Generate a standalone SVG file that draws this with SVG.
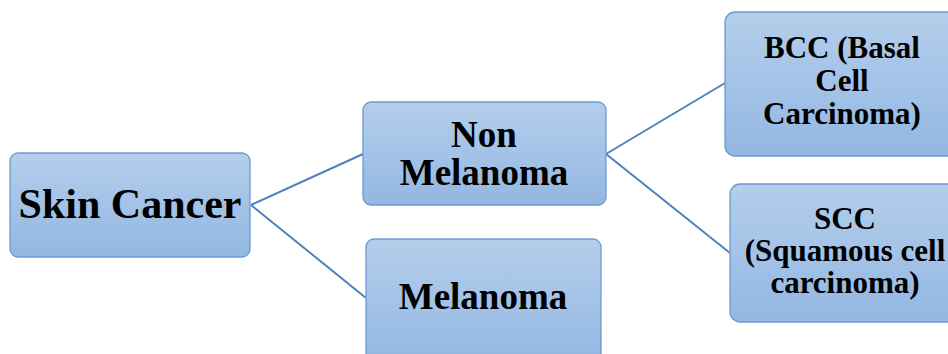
<svg xmlns="http://www.w3.org/2000/svg" width="948" height="354" viewBox="0 0 948 354">
<defs>
<linearGradient id="g" x1="0" y1="0" x2="0" y2="1">
<stop offset="0" stop-color="#B4CEEB"/>
<stop offset="1" stop-color="#93B7E2"/>
</linearGradient>
<style>
.box{fill:url(#g);stroke:#6A9AD3;stroke-width:1.3}
.t{font-weight:bold;fill:#000;text-anchor:middle}
.c{stroke:#4F81BD;stroke-width:2;fill:none}
</style>
</defs>
<rect width="948" height="354" fill="#fff"/>
<g id="connectors">
<line class="c" x1="251" y1="205" x2="363" y2="154"/>
<line class="c" x1="251" y1="205" x2="366" y2="298"/>
<line class="c" x1="606" y1="154" x2="725" y2="83"/>
<line class="c" x1="606" y1="154" x2="730" y2="253"/>
</g>
<g font-family="Liberation Serif, DejaVu Serif, serif">
<g id="skin-cancer">
<rect class="box" x="10" y="153" width="240" height="104" rx="8"/>
<text class="t" x="130" y="218" font-size="42">Skin Cancer</text>
</g>
<g id="non-melanoma">
<rect class="box" x="363" y="102" width="243" height="103" rx="8"/>
<text class="t" x="484" y="147" font-size="37">Non</text>
<text class="t" x="484" y="185" font-size="37">Melanoma</text>
</g>
<g id="melanoma">
<rect class="box" x="366" y="239" width="235" height="125" rx="8"/>
<text class="t" x="483" y="309" font-size="37">Melanoma</text>
</g>
<g id="bcc">
<rect class="box" x="725" y="12" width="235" height="144" rx="10"/>
<text class="t" x="842" y="58" font-size="31">BCC (Basal</text>
<text class="t" x="842" y="91" font-size="31">Cell</text>
<text class="t" x="842" y="124" font-size="31">Carcinoma)</text>
</g>
<g id="scc">
<rect class="box" x="730" y="184" width="235" height="138" rx="10"/>
<text class="t" x="845" y="229" font-size="31">SCC</text>
<text class="t" x="845" y="261" font-size="31">(Squamous cell</text>
<text class="t" x="845" y="293" font-size="31">carcinoma)</text>
</g>
</g>
</svg>
